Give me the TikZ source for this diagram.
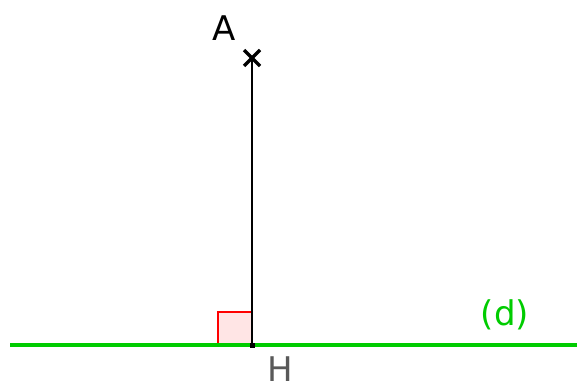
\documentclass[tikz,border=0pt]{standalone}
\usepackage{fontspec}
\setmainfont{DejaVu Sans}
\usetikzlibrary{calc}
\begin{document}
\begin{tikzpicture}[x=1pt,y=-1pt,
  lbl/.style={inner sep=0pt, font=\fontsize{34}{40}\selectfont}]
\useasboundingbox (0,0) rectangle (577,381);
\coordinate (A) at (252,58);
\coordinate (H) at (252,345);
\coordinate (dL) at (10,345);
\coordinate (dR) at (577,345);
\coordinate (Q) at (218,312);
\filldraw[draw=red, fill=red!10, line width=1.4pt] (H) rectangle (Q);
\draw[green!80!black, line width=4pt] (dL) -- (dR);
\draw[black, line width=2.6pt] (A) -- (H);
\draw[black, line width=3.5pt] ($(A)+(-8,-8)$) -- ($(A)+(8,8)$);
\draw[black, line width=3.5pt] ($(A)+(-8,8)$) -- ($(A)+(8,-8)$);
\fill[black] ($(H)+(-2.5,-2.5)$) rectangle ($(H)+(2.5,2.5)$);
\node[lbl] (lA) at (224,28) {A};
\node[lbl, text=black!65] (lH) at (280,369.5) {H};
\node[lbl, text=green!80!black] (ld) at (505,315) {(d)};
\end{tikzpicture}
\end{document}
